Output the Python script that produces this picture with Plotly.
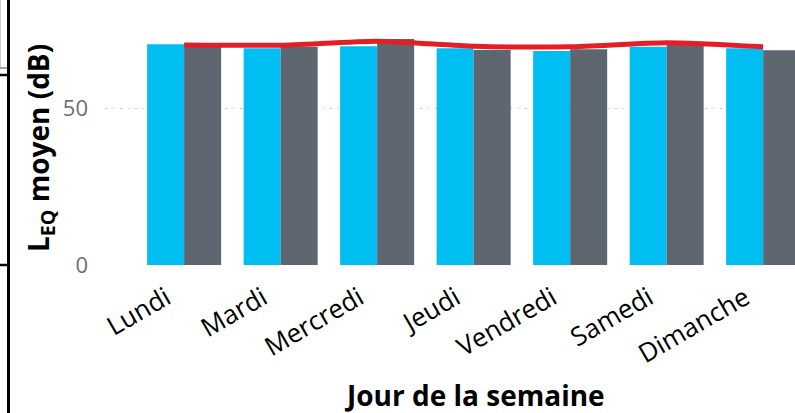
import plotly.graph_objects as go

days = ["Lundi", "Mardi", "Mercredi", "Jeudi", "Vendredi", "Samedi", "Dimanche"]
serie_a = [70.3, 69.0, 69.7, 69.0, 68.2, 69.5, 69.0]
serie_b = [70.0, 69.5, 72.0, 68.5, 68.7, 71.1, 68.4]
ligne = [70.1, 70.0, 71.3, 69.7, 69.5, 70.8, 69.5]
y_ticks = [0, 50]

W, H = 795, 413
L, R, T, B = 105, 0, 0, 147
pw = W - L - R
ph = H - T - B

def px_x(x):
    return (x - L) / pw

def px_y(y):
    return (H - B - y) / ph

fig = go.Figure()
fig.add_bar(x=days, y=serie_a, marker=dict(color="#00BEF2", line=dict(width=0)), name="A")
fig.add_bar(x=days, y=serie_b, marker=dict(color="#5E6770", line=dict(width=0)), name="B")
fig.add_scatter(x=days, y=ligne, mode="lines",
                line=dict(color="#E41E26", width=5, shape="spline", smoothing=0.6), name="C")

font = "Open Sans, Noto Sans, sans-serif"

fig.update_layout(
    width=W, height=H,
    margin=dict(l=L, r=R, t=T, b=B, pad=0, autoexpand=False),
    paper_bgcolor="white", plot_bgcolor="white",
    showlegend=False,
    barmode="group", bargap=0.233, bargroupgap=0,
    font=dict(family=font, color="black"),
    xaxis=dict(
        range=[-0.82, 6.33],
        tickangle=-30,
        tickfont=dict(size=26, color="black", family=font),
        showgrid=False, zeroline=False, showline=False,
        ticks="", ticklabelstandoff=11, ticklabelshift=-18, automargin=False,
    ),
    yaxis=dict(
        range=[-0.3, 84.4],
        tickvals=y_ticks,
        ticktext=[str(v) for v in y_ticks],
        tickfont=dict(size=22, color="#6E6E6E", family=font),
        showgrid=True, gridcolor="#C8C8C8", gridwidth=1.2, griddash="1.5px,6px",
        zeroline=False, showline=False, ticks="", ticklabelstandoff=16,
        automargin=False,
    ),
    annotations=[
        dict(text="<b>L<sub>EQ</sub> moyen (dB)</b>", textangle=-90,
             xref="paper", yref="paper", x=px_x(40), y=px_y(148),
             xanchor="center", yanchor="middle", showarrow=False,
             font=dict(size=28, color="black", family=font)),
        dict(text="<b>Jour de la semaine</b>",
             xref="paper", yref="paper", x=px_x(474), y=px_y(395),
             xanchor="center", yanchor="middle", showarrow=False,
             font=dict(size=28, color="black", family=font)),
    ],
    shapes=[
        dict(type="line", xref="paper", yref="paper", x0=px_x(8.5), x1=px_x(8.5),
             y0=px_y(0), y1=px_y(413), line=dict(color="black", width=3)),
        dict(type="line", xref="paper", yref="paper", x0=px_x(0), x1=px_x(8),
             y0=px_y(75), y1=px_y(75), line=dict(color="black", width=2.5)),
        dict(type="line", xref="paper", yref="paper", x0=px_x(0), x1=px_x(8),
             y0=px_y(265), y1=px_y(265), line=dict(color="black", width=2.5)),
        dict(type="line", xref="paper", yref="paper", x0=px_x(0.5), x1=px_x(0.5),
             y0=px_y(0), y1=px_y(68), line=dict(color="#C9CED8", width=1)),
        dict(type="line", xref="paper", yref="paper", x0=px_x(0), x1=px_x(7),
             y0=px_y(68), y1=px_y(68), line=dict(color="#444444", width=1)),
    ],
)

fig.write_html("out.html", config={"displayModeBar": False},
               post_script="document.body.style.margin='0';document.body.style.overflow='hidden';")
